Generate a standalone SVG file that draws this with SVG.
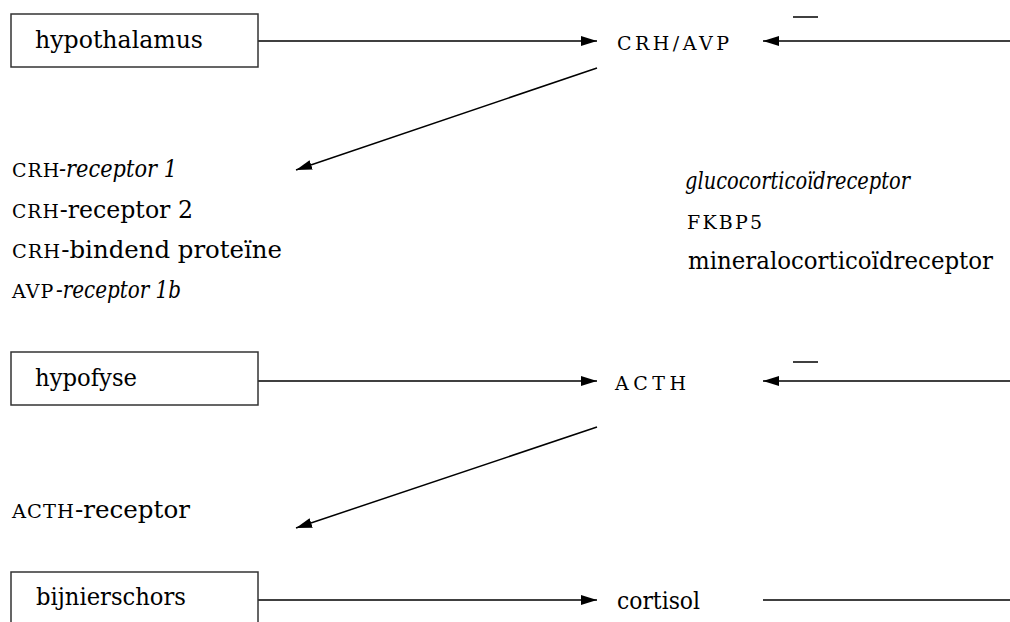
<svg xmlns="http://www.w3.org/2000/svg" width="1010" height="622" viewBox="0 0 1010 622">
<style>
.box{fill:#fff;stroke:#333;stroke-width:1.5}
.ln{stroke:#000;stroke-width:1.5;fill:none}
.ar{marker-end:url(#ah)}
.t{font-family:'DejaVu Serif',serif;font-size:24px;fill:#000}
.sc{font-size:19px;letter-spacing:1px}
.it{font-style:italic}
</style>
<defs>
<marker id="ah" markerUnits="userSpaceOnUse" markerWidth="17" markerHeight="12" refX="16" refY="5" orient="auto">
<path d="M0,0 L16,5 L0,10 Z" fill="#000"/>
</marker>
</defs>
<g id="connectors">
<line class="ln ar" x1="258" y1="41" x2="597" y2="41"/>
<line class="ln ar" x1="1010" y1="41" x2="763" y2="41"/>
<line class="ln" x1="793" y1="17" x2="818" y2="17"/>
<line class="ln ar" x1="597" y1="68" x2="296" y2="170"/>
<line class="ln ar" x1="258" y1="381" x2="597" y2="381"/>
<line class="ln ar" x1="1010" y1="381" x2="763" y2="381"/>
<line class="ln" x1="793" y1="362" x2="818" y2="362"/>
<line class="ln ar" x1="597" y1="427" x2="296" y2="528"/>
<line class="ln ar" x1="258" y1="600" x2="597" y2="600"/>
<line class="ln" x1="763" y1="600" x2="1010" y2="600"/>
</g>
<g id="hypothalamus">
<rect class="box" x="11" y="14" width="247" height="53"/>
<text class="t" x="35" y="48" textLength="168" lengthAdjust="spacingAndGlyphs">hypothalamus</text>
</g>
<g id="crh-avp">
<text class="t sc" x="617" y="50" textLength="113" lengthAdjust="spacing">CRH/AVP</text>
</g>
<g id="receptors-1">
<text class="t" x="12" y="177"><tspan class="sc">CRH</tspan><tspan class="it" x="59" textLength="118" lengthAdjust="spacingAndGlyphs">-receptor 1</tspan></text>
<text class="t" x="12" y="218" textLength="181" lengthAdjust="spacingAndGlyphs"><tspan class="sc">CRH</tspan>-receptor 2</text>
<text class="t" x="12" y="258" textLength="270" lengthAdjust="spacingAndGlyphs"><tspan class="sc">CRH</tspan>-bindend proteïne</text>
<text class="t" x="12" y="298"><tspan class="sc">AVP</tspan><tspan class="it" x="56" textLength="125" lengthAdjust="spacingAndGlyphs">-receptor 1b</tspan></text>
</g>
<g id="receptors-feedback">
<text class="t it" x="685" y="189" textLength="225" lengthAdjust="spacingAndGlyphs">glucocorticoïdreceptor</text>
<text class="t sc" x="687" y="229" textLength="76" lengthAdjust="spacing">FKBP5</text>
<text class="t" x="688" y="269" textLength="305" lengthAdjust="spacingAndGlyphs">mineralocorticoïdreceptor</text>
</g>
<g id="hypofyse">
<rect class="box" x="11" y="352" width="247" height="53"/>
<text class="t" x="35" y="386" textLength="102" lengthAdjust="spacingAndGlyphs">hypofyse</text>
</g>
<g id="acth">
<text class="t sc" x="615" y="390" textLength="72" lengthAdjust="spacing">ACTH</text>
</g>
<g id="acth-receptor">
<text class="t" x="12" y="518" textLength="178" lengthAdjust="spacingAndGlyphs"><tspan class="sc">ACTH</tspan>-receptor</text>
</g>
<g id="bijnierschors">
<rect class="box" x="11" y="572" width="247" height="60"/>
<text class="t" x="36" y="605" textLength="150" lengthAdjust="spacingAndGlyphs">bijnierschors</text>
</g>
<g id="cortisol">
<text class="t" x="617" y="609" textLength="83" lengthAdjust="spacingAndGlyphs">cortisol</text>
</g>
</svg>
